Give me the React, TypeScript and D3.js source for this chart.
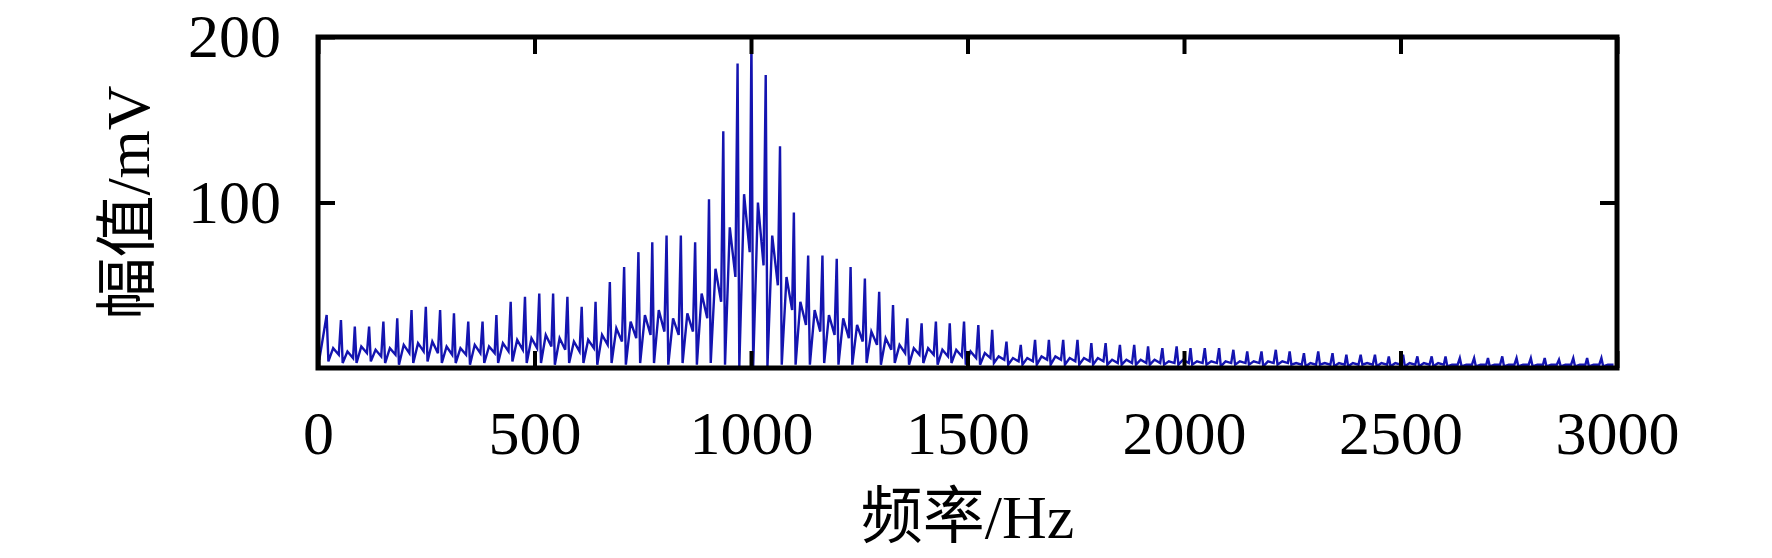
import { useRef, useEffect } from 'react';
import * as d3 from 'd3';

// spectrum: one spike per harmonic (~32.7 Hz apart)
const peakHz = [
    20, 53, 85, 118, 151, 183, 216, 249, 282, 314,
    347, 380, 412, 445, 478, 511, 543, 576, 609, 641,
    674, 707, 740, 772, 805, 838, 871, 903, 936, 969,
    1001, 1034, 1067, 1099, 1132, 1165, 1198, 1230, 1263, 1296,
    1328, 1361, 1394, 1427, 1459, 1492, 1525, 1557, 1590, 1623,
    1656, 1688, 1721, 1754, 1786, 1819, 1852, 1885, 1917, 1950,
    1983, 2015, 2048, 2081, 2114, 2146, 2179, 2212, 2244, 2277,
    2310, 2343, 2375, 2408, 2441, 2473, 2506, 2539, 2572, 2604,
    2637, 2670, 2702, 2735, 2768, 2801, 2833, 2866, 2899, 2931,
    2964,
];
const peakMv = [
    32, 29, 25, 25, 28, 30, 35, 37, 35, 33,
    28, 28, 32, 40, 43, 45, 45, 43, 37, 40,
    52, 61, 70, 76, 80, 80, 76, 102, 143, 184,
    198, 177, 134, 94, 68, 68, 66, 61, 54, 46,
    38, 30, 27, 28, 27, 28, 26, 23, 16, 14,
    17, 17, 17, 17, 15, 15, 14, 14, 13, 12,
    13, 12, 12, 12, 11, 10, 10, 11, 10, 9,
    10, 9, 8, 8, 8, 7, 8, 7, 7, 7,
    6, 6, 6, 7, 6, 6, 6, 5, 6, 6,
    6,
];
// low point just after each spike
const dipMv = [
    4, 3, 3, 4, 3, 2, 3, 4, 3, 3,
    2, 3, 3, 4, 3, 3, 2, 3, 3, 2,
    3, 2, 3, 3, 2, 3, 2, 3, 2, 1,
    1, 1, 2, 2, 2, 3, 2, 2, 3, 2,
    3, 2, 3, 2, 3, 2, 2, 3, 2, 2,
    2, 2, 2, 2, 2, 2, 2, 2, 2, 2,
    2, 2, 2, 1, 2, 2, 1, 2, 2, 1,
    2, 1, 1, 2, 1, 1, 1, 1, 1, 1,
    1, 1, 1, 1, 1, 1, 1, 1, 1, 1,
    1,
];
// small bump between two spikes
const shoulderMv = [
    12, 10, 13, 11, 12, 14, 15, 16, 13, 12,
    14, 13, 15, 17, 18, 20, 18, 16, 17, 20,
    24, 28, 32, 35, 30, 33, 45, 60, 85, 105,
    100, 80, 55, 40, 35, 32, 30, 26, 22, 18,
    14, 12, 12, 11, 11, 10, 9, 7, 6, 6,
    7, 7, 6, 6, 6, 5, 5, 5, 5, 4,
    5, 4, 4, 4, 4, 4, 4, 4, 3, 3,
    3, 3, 3, 3, 3, 3, 3, 3, 3, 2,
    2, 2, 2, 2, 2, 2, 2, 2, 2, 2,
    2,
];
// level the trace starts each rise from
const riseMv = [
    8, 6, 9, 7, 8, 9, 10, 9, 8, 8,
    9, 9, 10, 11, 12, 13, 11, 10, 12, 14,
    16, 18, 20, 22, 20, 22, 30, 40, 55, 70,
    62, 50, 35, 26, 22, 20, 18, 16, 14, 11,
    9, 8, 8, 7, 7, 6, 6, 5, 4, 4,
    5, 5, 4, 4, 4, 3, 3, 3, 3, 3,
    3, 3, 3, 3, 3, 3, 3, 3, 2, 2,
    2, 2, 2, 2, 2, 2, 2, 2, 2, 2,
    2, 2, 2, 2, 2, 2, 2, 2, 2, 2,
    2,
];
const leadIn = [3, 5];
const dipOffsetHz = 4;
const shoulderOffsetHz = 15;
const riseOffsetHz = 28;

const xTicks = [0, 500, 1000, 1500, 2000, 2500, 3000];
const yTicks = [100, 200];
const xTitle = '频率/Hz';
const yTitle = '幅值/mV';

export default function App() {
    const ref = useRef<SVGSVGElement>(null);

    useEffect(() => {
        if (!ref.current) return;
        const svg = d3.select(ref.current);
        svg.selectAll('*').remove();

        const left = 318, right = 1617, top = 37, bottom = 368;
        const tick = 17;
        const font = "'Liberation Serif', 'Times New Roman', 'Noto Sans CJK SC', serif";

        const x = d3.scaleLinear().domain([0, 3000]).range([left, right]);
        const y = d3.scaleLinear().domain([0, 200]).range([bottom, top]);

        const points: [number, number][] = [[leadIn[0], leadIn[1]]];
        peakHz.forEach((f, i) => {
            points.push([f, peakMv[i]]);
            points.push([f + dipOffsetHz, dipMv[i]]);
            points.push([f + shoulderOffsetHz, shoulderMv[i]]);
            points.push([f + riseOffsetHz, riseMv[i]]);
        });

        const line = d3.line<[number, number]>()
            .x(d => x(d[0]))
            .y(d => y(d[1]));

        svg.append('path')
            .datum(points)
            .attr('d', line)
            .attr('fill', 'none')
            .attr('stroke', '#1414b0')
            .attr('stroke-width', 2.4)
            .attr('stroke-linejoin', 'miter');

        const styleAxis = (g: d3.Selection<SVGGElement, unknown, null, undefined>) => {
            g.select('.domain').remove();
            g.selectAll('.tick line').attr('stroke', '#000').attr('stroke-width', 4);
            g.selectAll('.tick text')
                .attr('fill', '#000')
                .style('font-family', font)
                .style('font-size', '62px');
        };

        svg.append('g')
            .attr('transform', `translate(0,${bottom})`)
            .call(d3.axisBottom(x).tickValues(xTicks).tickSize(-tick).tickPadding(42).tickFormat(d3.format('d')))
            .call(styleAxis);
        svg.append('g')
            .attr('transform', `translate(0,${top})`)
            .call(d3.axisTop(x).tickValues(xTicks).tickSize(-tick).tickFormat(() => ''))
            .call(styleAxis);
        svg.append('g')
            .attr('transform', `translate(${left},0)`)
            .call(d3.axisLeft(y).tickValues(yTicks).tickSize(-tick).tickPadding(37).tickFormat(d3.format('d')))
            .call(styleAxis);
        svg.append('g')
            .attr('transform', `translate(${right},0)`)
            .call(d3.axisRight(y).tickValues(yTicks).tickSize(-tick).tickFormat(() => ''))
            .call(styleAxis);

        svg.append('rect')
            .attr('x', left)
            .attr('y', top)
            .attr('width', right - left)
            .attr('height', bottom - top)
            .attr('fill', 'none')
            .attr('stroke', '#000')
            .attr('stroke-width', 5);

        svg.append('text')
            .attr('x', (left + right) / 2)
            .attr('y', 538)
            .attr('text-anchor', 'middle')
            .style('font-family', font)
            .style('font-size', '62px')
            .text(xTitle);

        svg.append('text')
            .attr('transform', `translate(149,${(top + bottom) / 2}) rotate(-90)`)
            .attr('text-anchor', 'middle')
            .style('font-family', font)
            .style('font-size', '62px')
            .text(yTitle);
    }, []);

    return (
        <svg ref={ref} width={1772} height={558}
            style={{ position: 'absolute', left: 0, top: 0, background: '#fff' }} />
    );
}
